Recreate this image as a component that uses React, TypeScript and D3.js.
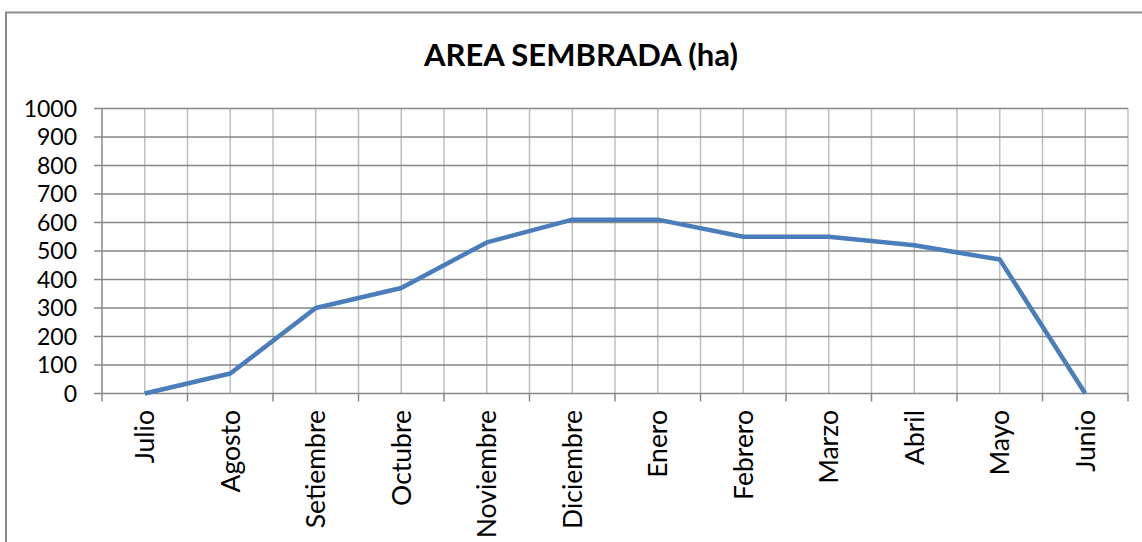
import React, { useEffect, useRef } from 'react';
import * as d3 from 'd3';

const months = ['Julio', 'Agosto', 'Setiembre', 'Octubre', 'Noviembre', 'Diciembre', 'Enero', 'Febrero', 'Marzo', 'Abril', 'Mayo', 'Junio'];
const area = [0, 70, 300, 370, 530, 610, 610, 550, 550, 520, 470, 0];
const yTicks = [0, 100, 200, 300, 400, 500, 600, 700, 800, 900, 1000];

const App = () => {
    const ref = useRef<SVGSVGElement>(null);

    useEffect(() => {
        const W = 1142, H = 542;
        const left = 102, right = 1128, top = 108.5, bottom = 393.5;
        const font = 'Lato, "Open Sans", sans-serif';

        const svg = d3.select(ref.current).attr('width', W).attr('height', H);
        svg.selectAll('*').remove();

        svg.append('rect').attr('width', W).attr('height', H).attr('fill', '#fff');
        // chart frame (runs off the picture on right and bottom)
        svg.append('rect').attr('x', 6).attr('y', 12.5).attr('width', W).attr('height', H)
            .attr('fill', 'none').attr('stroke', '#8c8c8c').attr('stroke-width', 2);

        const x = d3.scaleBand().domain(months).range([left, right]);
        const y = d3.scaleLinear().domain([0, 1000]).range([bottom, top]);
        const cx = (m) => x(m) + x.bandwidth() / 2;

        // vertical gridlines: band edges and centres
        const vLines = [];
        months.forEach((m) => { vLines.push(x(m)); vLines.push(cx(m)); });
        vLines.push(right);
        svg.append('g').selectAll('line').data(vLines.slice(1)).enter().append('line')
            .attr('x1', (d) => d).attr('x2', (d) => d).attr('y1', top).attr('y2', bottom)
            .attr('stroke', '#c0c0c0').attr('stroke-width', 1.5);

        // horizontal gridlines
        svg.append('g').selectAll('line').data(yTicks).enter().append('line')
            .attr('x1', left - 8).attr('x2', right).attr('y1', (d) => y(d)).attr('y2', (d) => y(d))
            .attr('stroke', '#878787').attr('stroke-width', 1.5);

        // y axis line
        svg.append('line').attr('x1', left).attr('x2', left).attr('y1', top).attr('y2', bottom)
            .attr('stroke', '#878787').attr('stroke-width', 1.5);

        // x tick marks at band edges
        const edges = months.map((m) => x(m)).concat([right]);
        svg.append('g').selectAll('line').data(edges).enter().append('line')
            .attr('x1', (d) => d).attr('x2', (d) => d).attr('y1', bottom).attr('y2', bottom + 8)
            .attr('stroke', '#878787').attr('stroke-width', 1.5);

        // y labels
        svg.append('g').selectAll('text').data(yTicks).enter().append('text')
            .attr('x', 77).attr('y', (d) => y(d)).attr('dy', '0.35em').attr('text-anchor', 'end')
            .style('font-family', font).style('font-size', '23px').attr('fill', '#000')
            .text((d) => d);

        // x labels rotated
        svg.append('g').selectAll('text').data(months).enter().append('text')
            .attr('transform', (d) => `translate(${cx(d)}, 410) rotate(-90)`)
            .attr('text-anchor', 'end').attr('dy', '0.35em')
            .style('font-family', font).style('font-size', '26.5px').attr('fill', '#000')
            .text((d) => d);

        // line
        const line = d3.line<number>().x((d, i) => cx(months[i])).y((d) => y(d));
        svg.append('path').datum(area).attr('d', line).attr('fill', 'none')
            .attr('stroke', '#4a7ebb').attr('stroke-width', 4.5).attr('stroke-linejoin', 'round');

        // title
        svg.append('text').attr('x', 581).attr('y', 66).attr('text-anchor', 'middle')
            .style('font-family', font).style('font-size', '31px').style('font-weight', 'bold')
            .attr('fill', '#000').text('AREA SEMBRADA (ha)');
    }, []);

    return <svg ref={ref} style={{ position: 'absolute', left: 0, top: 0 }}></svg>;
};

export default App;
